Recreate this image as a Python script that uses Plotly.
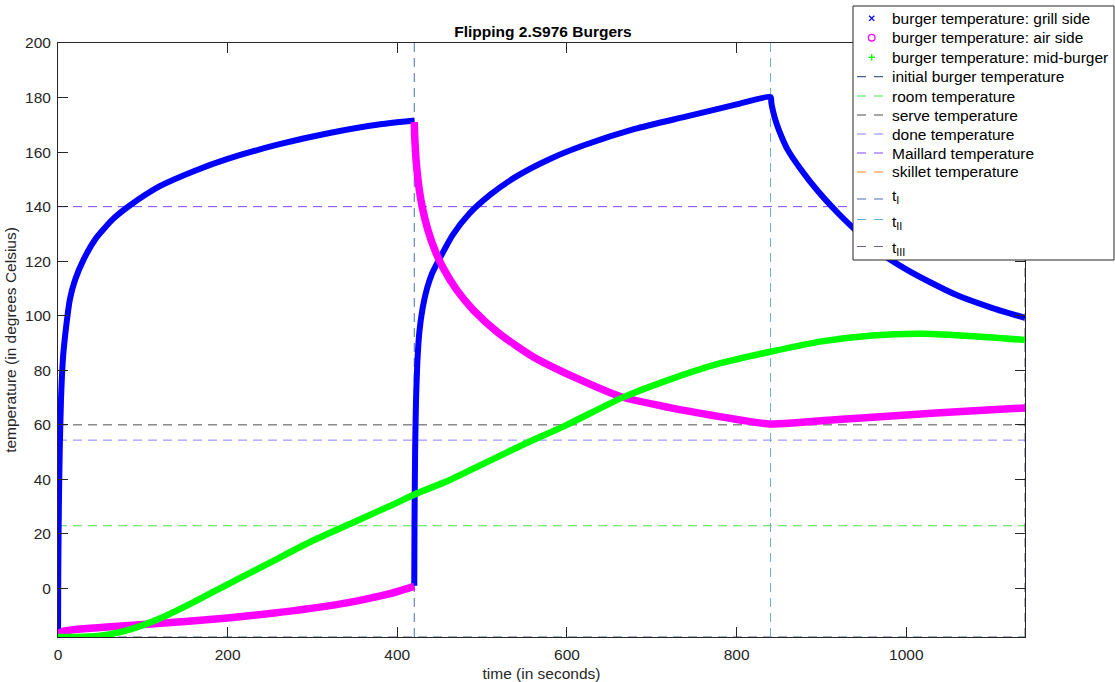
import plotly.graph_objects as go

# ---------------- data ----------------
# grill side (blue x), three phases
grill_t1 = [0, 0.3, 1, 2, 3.5, 6, 10, 14, 20, 30, 45, 65, 85, 120, 160, 200, 260, 320, 380, 420]
grill_T1 = [-17.8, 5, 30, 50, 69, 85, 97, 106, 113, 120.5, 128.5, 135.5, 140.5, 147.5, 153, 157.5, 162.8, 167, 170.2, 171.6]
grill_t2 = [420, 420.3, 421, 422, 423.5, 426, 430, 435, 441, 450, 465, 485, 510, 540, 580, 620, 680, 740, 800, 840]
grill_T2 = [1, 25, 50, 68, 82, 94, 103, 110, 115.5, 121, 129.5, 137.5, 144.5, 151, 157.5, 162.5, 168.5, 173, 177.5, 180.2]
grill_t3 = [840, 841, 843, 846, 850, 860, 875, 895, 920, 945, 970, 1000, 1030, 1060, 1100, 1140]
grill_T3 = [180.2, 178, 175, 171.5, 168, 161, 154, 146, 137.5, 130, 123, 117, 112, 107.5, 103, 99.2]

# air side (magenta o)
air_t1 = [0, 1, 5, 20, 50, 100, 150, 200, 250, 300, 350, 390, 420]
air_T1 = [-17.8, -16.5, -15.8, -15, -14.3, -13.2, -12.1, -10.8, -9.2, -7.2, -4.7, -2, 0.8]
air_t2 = [420, 420.5, 421.5, 423, 426, 430, 436, 445, 455, 470, 490, 520, 560, 610, 664, 720, 780, 820, 840]
air_T2 = [171, 166, 160, 154, 146, 139, 131.5, 123.5, 117, 109.5, 102, 93.5, 85, 77.3, 70.3, 66.4, 63, 61, 60.3]
air_t3 = [840, 870, 920, 1000, 1070, 1140]
air_T3 = [60.3, 60.8, 62, 63.6, 65, 66.2]

# mid-burger (green +)
mid_t = [0, 30, 60, 90, 120, 160, 200, 250, 300, 350, 400, 420, 460, 500, 550, 600, 664, 720, 780, 840, 900, 960, 1020, 1080, 1140]
mid_T = [-17.8, -17.7, -16.8, -14.5, -11, -5, 1.5, 9.5, 17.5, 24.5, 31.5, 34.5, 39.5, 45.5, 53, 60, 69.8, 76.5, 82.5, 86.8, 90.6, 92.8, 93.4, 92.5, 91.1]

series_names = ["burger temperature: grill side", "burger temperature: air side", "burger temperature: mid-burger"]
series_colors = ["#0000ff", "#ff00ff", "#00ff00"]

# reference temperatures (deg C)
ref_names = ["initial burger temperature", "room temperature", "serve temperature",
             "done temperature", "Maillard temperature", "skillet temperature"]
ref_values = [-17.78, 23, 60, 54.4, 140, 204.4]
ref_colors = ["#4d5f85", "#44e544", "#4d4d4d", "#8a80ff", "#7f45f5", "#ff7f2a"]

# flip times (s)
flip_names = ["t<sub>I</sub>", "t<sub>II</sub>", "t<sub>III</sub>"]
flip_times = [420, 840, 1140]
flip_colors = ["#4a6fb0", "#67b0cc", "#6f6080"]

x_range = [0, 1140]
y_range = [-17.78, 200]
x_ticks = [0, 200, 400, 600, 800, 1000]
y_ticks = [0, 20, 40, 60, 80, 100, 120, 140, 160, 180, 200]

FONT = "Liberation Sans, Arial, Helvetica, sans-serif"
FS = 15.5
DASH = "9px,6px"

# plot-area geometry in pixels
W, H = 1115, 682
L, R, T, B = 58, 90, 43, 45
PW, PH = W - L - R, H - T - B


def px(xp):
    return (xp - L) / PW


def py(yp):
    return (H - B - yp) / PH


fig = go.Figure()

# reference horizontal lines
for n, v, c in zip(ref_names, ref_values, ref_colors):
    fig.add_trace(go.Scatter(x=x_range, y=[v, v], mode="lines", name=n, showlegend=False,
                             line=dict(color=c, width=1, dash=DASH)))

# flip vertical lines
for n, v, c in zip(flip_names, flip_times, flip_colors):
    fig.add_trace(go.Scatter(x=[v, v], y=y_range, mode="lines", name=n, showlegend=False,
                             line=dict(color=c, width=1, dash=DASH)))

# the curves
grill_x = grill_t1 + [None] + grill_t2 + grill_t3[1:]
grill_y = grill_T1 + [None] + grill_T2 + grill_T3[1:]
air_x = air_t1 + [None] + air_t2 + air_t3[1:]
air_y = air_T1 + [None] + air_T2 + air_T3[1:]

fig.add_trace(go.Scatter(x=grill_x, y=grill_y, mode="lines", name=series_names[0], showlegend=False,
                         line=dict(color=series_colors[0], width=6, shape="spline", smoothing=0.6), connectgaps=False))
fig.add_trace(go.Scatter(x=air_x, y=air_y, mode="lines", name=series_names[1], showlegend=False,
                         line=dict(color=series_colors[1], width=7.5, shape="spline", smoothing=0.6), connectgaps=False))
fig.add_trace(go.Scatter(x=mid_t, y=mid_T, mode="lines", name=series_names[2], showlegend=False,
                         line=dict(color=series_colors[2], width=6.5, shape="spline", smoothing=0.6)))

# ---------------- legend drawn as shapes + annotations ----------------
shapes = []
annotations = []
LEG_X0, LEG_X1, LEG_Y0, LEG_Y1 = 853, 1114, 6, 260
shapes.append(dict(type="rect", xref="paper", yref="paper", layer="above",
                   x0=px(LEG_X0), x1=px(LEG_X1), y0=py(LEG_Y1), y1=py(LEG_Y0),
                   fillcolor="white", line=dict(color="#262626", width=1)))

row_y = [18.3, 37.7, 57.3, 76.7, 96, 115, 134, 153, 172, 199, 219.5, 246.5]
text_y = [18.3, 37.7, 57.3, 76.7, 96, 115, 134, 153, 172, 196, 222, 249]
SYM_X = 871.7
TXT_X = 889.5

# marker symbols
cx, cy = SYM_X, row_y[0]
s = 2.6
shapes.append(dict(type="line", xref="paper", yref="paper", layer="above", x0=px(cx - s), x1=px(cx + s),
                   y0=py(cy - s), y1=py(cy + s), line=dict(color=series_colors[0], width=1.3)))
shapes.append(dict(type="line", xref="paper", yref="paper", layer="above", x0=px(cx - s), x1=px(cx + s),
                   y0=py(cy + s), y1=py(cy - s), line=dict(color=series_colors[0], width=1.3)))
cx, cy = SYM_X, row_y[1]
r = 3.3
shapes.append(dict(type="circle", xref="paper", yref="paper", layer="above", x0=px(cx - r), x1=px(cx + r),
                   y0=py(cy + r), y1=py(cy - r), line=dict(color=series_colors[1], width=1.3)))
cx, cy = SYM_X, row_y[2]
s = 3.3
shapes.append(dict(type="line", xref="paper", yref="paper", layer="above", x0=px(cx - s), x1=px(cx + s),
                   y0=py(cy), y1=py(cy), line=dict(color=series_colors[2], width=1.3)))
shapes.append(dict(type="line", xref="paper", yref="paper", layer="above", x0=px(cx), x1=px(cx),
                   y0=py(cy - s), y1=py(cy + s), line=dict(color=series_colors[2], width=1.3)))

# dashed line samples
line_colors = ref_colors + flip_colors
for i, c in enumerate(line_colors):
    yy = row_y[3 + i]
    shapes.append(dict(type="line", xref="paper", yref="paper", layer="above",
                       x0=px(857), x1=px(883), y0=py(yy), y1=py(yy),
                       line=dict(color=c, width=1.2, dash="9px,8px")))

legend_texts = series_names + ref_names + flip_names
for i, txt in enumerate(legend_texts):
    annotations.append(dict(text=txt, xref="paper", yref="paper", x=px(TXT_X), y=py(text_y[i]),
                            xanchor="left", yanchor="middle", showarrow=False,
                            font=dict(family=FONT, size=FS, color="#000000")))

axis_common = dict(showline=True, linecolor="#262626", linewidth=1, mirror="ticks",
                   ticks="inside", ticklen=10, tickcolor="#262626", tickwidth=1,
                   showgrid=False, zeroline=False,
                   tickfont=dict(family=FONT, size=FS, color="#262626"))

fig.update_layout(
    width=W, height=H,
    margin=dict(l=L, r=R, t=T, b=B, autoexpand=False),
    paper_bgcolor="white", plot_bgcolor="white",
    font=dict(family=FONT, color="#262626"),
    title=dict(text="<b>Flipping 2.S976 Burgers</b>", x=px(543) * PW / W + L / W, xanchor="center",
               y=1 - 32 / H, yanchor="middle",
               font=dict(family=FONT, size=FS, color="#000000")),
    xaxis=dict(range=x_range, tickvals=x_ticks, ticklabelstandoff=3, **axis_common,
               title=dict(text="time (in seconds)", font=dict(family=FONT, size=FS, color="#262626"), standoff=6)),
    yaxis=dict(range=y_range, tickvals=y_ticks, ticklabelstandoff=3, **axis_common,
               title=dict(text="temperature (in degrees Celsius)", font=dict(family=FONT, size=FS, color="#262626"), standoff=4)),
    shapes=shapes,
    annotations=annotations,
    showlegend=False,
)

fig.write_html("out.html")
